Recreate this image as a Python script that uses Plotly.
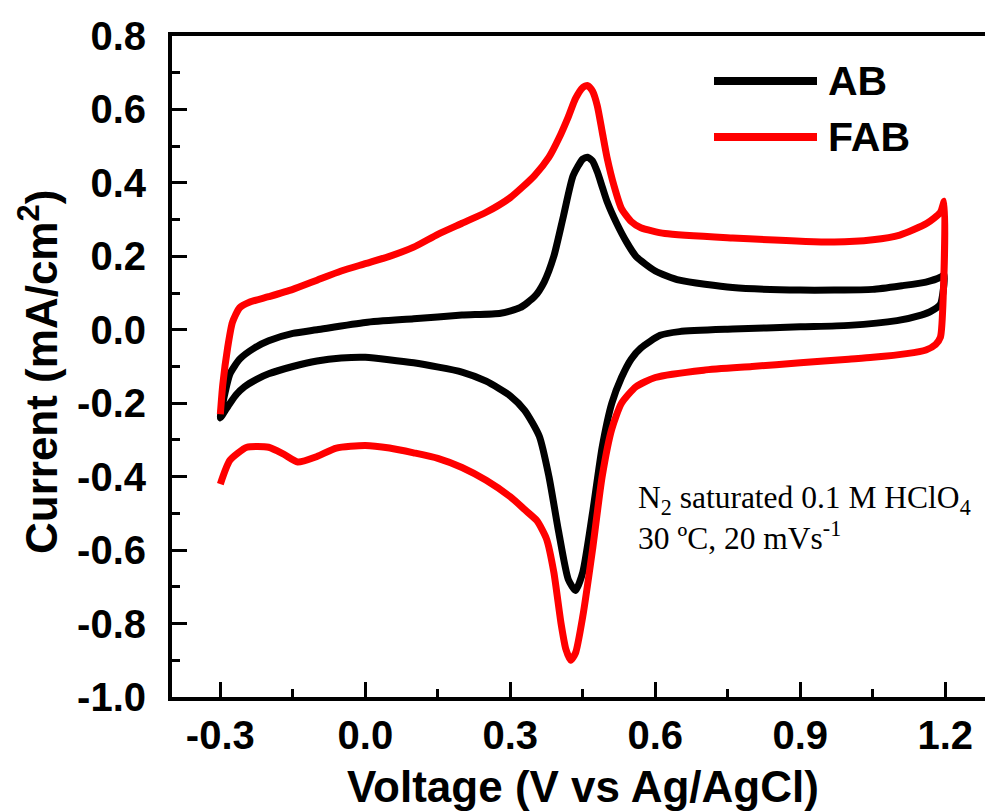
import plotly.graph_objects as go

# ---- data ----
ab_v = [-0.30, -0.29, -0.28, -0.26, -0.23, -0.20, -0.15, -0.10, 0.00, 0.10, 0.20, 0.28, 0.32, 0.35,
        0.37, 0.39, 0.41, 0.43, 0.45, 0.46, 0.47, 0.48, 0.49, 0.50, 0.52, 0.54, 0.56, 0.60, 0.65,
        0.76, 0.90, 0.97, 1.05, 1.11, 1.16, 1.19, 1.198,
        1.195, 1.19, 1.17, 1.15, 1.10, 1.00, 0.90, 0.76, 0.65, 0.61, 0.57, 0.55, 0.53, 0.51, 0.49,
        0.47, 0.45, 0.435, 0.42, 0.40, 0.38, 0.36, 0.33, 0.30, 0.25, 0.20, 0.10, 0.00, -0.05, -0.10,
        -0.15, -0.20, -0.225, -0.25, -0.266, -0.28, -0.29, -0.30]
ab_i = [-0.24, -0.17, -0.12, -0.08, -0.05, -0.03, -0.01, 0.00, 0.02, 0.03, 0.04, 0.045, 0.06, 0.09,
        0.13, 0.20, 0.31, 0.42, 0.465, 0.47, 0.46, 0.43, 0.39, 0.35, 0.29, 0.24, 0.20, 0.16, 0.135,
        0.115, 0.108, 0.108, 0.11, 0.12, 0.13, 0.143, 0.15,
        0.10, 0.07, 0.05, 0.04, 0.025, 0.012, 0.008, 0.002, -0.005, -0.015, -0.05, -0.08, -0.13,
        -0.20, -0.32, -0.50, -0.66, -0.71, -0.68, -0.55, -0.40, -0.29, -0.22, -0.18, -0.14, -0.115,
        -0.09, -0.075, -0.077, -0.085, -0.10, -0.12, -0.135, -0.155, -0.175, -0.20, -0.22, -0.24]

fab_v = [-0.30, -0.295, -0.285, -0.275, -0.26, -0.24, -0.20, -0.15, -0.10, -0.05, 0.00, 0.05, 0.10,
         0.15, 0.20, 0.25, 0.30, 0.35, 0.38, 0.40, 0.42, 0.435, 0.45, 0.46, 0.47, 0.48, 0.49, 0.50,
         0.515, 0.53, 0.55, 0.57, 0.62, 0.76, 0.97, 1.05, 1.106, 1.162, 1.19, 1.198,
         1.196, 1.19, 1.18, 1.16, 1.12, 1.05, 1.00, 0.90, 0.80, 0.70, 0.60, 0.56, 0.53, 0.51, 0.49,
         0.47, 0.45, 0.435, 0.425, 0.415, 0.405, 0.39, 0.375, 0.355, 0.33, 0.30, 0.25, 0.20, 0.15,
         0.10, 0.05, 0.00, -0.06, -0.10, -0.14, -0.17, -0.20, -0.245, -0.28, -0.30]
fab_i = [-0.23, -0.15, -0.05, 0.02, 0.06, 0.075, 0.09, 0.11, 0.135, 0.16, 0.18, 0.20, 0.225, 0.26,
         0.29, 0.32, 0.36, 0.42, 0.47, 0.52, 0.58, 0.63, 0.66, 0.665, 0.65, 0.61, 0.54, 0.47, 0.39,
         0.33, 0.295, 0.278, 0.262, 0.25, 0.239, 0.245, 0.258, 0.29, 0.32, 0.35,
         0.10, -0.02, -0.04, -0.055, -0.065, -0.075, -0.08, -0.09, -0.10, -0.11, -0.13, -0.155, -0.20,
         -0.27, -0.40, -0.60, -0.78, -0.88, -0.90, -0.87, -0.80, -0.66, -0.57, -0.52, -0.49, -0.455,
         -0.41, -0.375, -0.35, -0.335, -0.322, -0.315, -0.322, -0.345, -0.36, -0.338, -0.32, -0.32,
         -0.355, -0.42]

series_names = ["AB", "FAB"]
series_colors = ["#000000", "#ff0000"]

x_tickvals = [-0.3, 0.0, 0.3, 0.6, 0.9, 1.2]
x_ticktext = ["-0.3", "0.0", "0.3", "0.6", "0.9", "1.2"]
y_tickvals = [-1.0, -0.8, -0.6, -0.4, -0.2, 0.0, 0.2, 0.4, 0.6, 0.8]
y_ticktext = ["-1.0", "-0.8", "-0.6", "-0.4", "-0.2", "0.0", "0.2", "0.4", "0.6", "0.8"]

W, H = 985, 811
L, R, T, B = 172, 0, 36, 114
PW, PH = W - L - R, H - T - B


def px(xp):
    return (xp - L) / PW


def py(yp):
    return (H - B - yp) / PH


fig = go.Figure()
for name, v, i, c in [("AB", ab_v, ab_i, series_colors[0]), ("FAB", fab_v, fab_i, series_colors[1])]:
    fig.add_trace(go.Scatter(x=v, y=i, mode="lines", name=name,
                             line=dict(color=c, width=7, shape="spline", smoothing=0.6),
                             showlegend=False))

tickfont = dict(family="Liberation Sans, Arial", size=40, color="black", weight="bold")

fig.update_layout(
    width=W, height=H,
    margin=dict(l=L, r=R, t=T, b=B, pad=0),
    paper_bgcolor="white", plot_bgcolor="white",
    xaxis=dict(range=[-0.4, -0.4 + PW / 483.3], showgrid=False, zeroline=False,
               showline=True, linecolor="black", linewidth=4, mirror=True,
               ticks="inside", ticklen=15, tickwidth=3, tickcolor="black",
               tickvals=x_tickvals, ticktext=x_ticktext, tickfont=tickfont,
               ticklabelstandoff=0,
               minor=dict(ticks="inside", ticklen=8, tickwidth=3, tickcolor="black", dtick=0.15, tick0=-0.15)),
    yaxis=dict(range=[-1.0, 0.8], showgrid=False, zeroline=False,
               showline=True, linecolor="black", linewidth=4, mirror=False,
               ticks="inside", ticklen=15, tickwidth=3, tickcolor="black",
               tickvals=y_tickvals, ticktext=y_ticktext, tickfont=tickfont,
               ticklabelstandoff=14,
               minor=dict(ticks="inside", ticklen=8, tickwidth=3, tickcolor="black", dtick=0.1, tick0=-0.9)),
)

# axis titles
fig.add_annotation(text="Voltage (V vs Ag/AgCl)", xref="paper", yref="paper",
                   x=px(583), y=py(786), xanchor="center", yanchor="middle", showarrow=False,
                   font=dict(family="Liberation Sans, Arial", size=44, color="black", weight="bold"))
fig.add_annotation(text="Current (mA/cm<sup>2</sup>)", xref="paper", yref="paper",
                   x=px(38), y=py(372), xanchor="center", yanchor="middle", showarrow=False, textangle=-90,
                   font=dict(family="Liberation Sans, Arial", size=44, color="black", weight="bold"))

# legend (drawn manually to match long sample lines)
for k, (name, c) in enumerate(zip(series_names, series_colors)):
    yy = 81 + k * 56
    fig.add_shape(type="line", xref="paper", yref="paper", x0=px(714), x1=px(817), y0=py(yy), y1=py(yy),
                  line=dict(color=c, width=8))
    fig.add_annotation(text=name, xref="paper", yref="paper", x=px(826), y=py(yy), xanchor="left",
                       yanchor="middle", showarrow=False,
                       font=dict(family="Liberation Sans, Arial", size=41, color="black", weight="bold"))

# condition note
fig.add_annotation(text="N<sub>2</sub> saturated 0.1 M HClO<sub>4</sub><br>30 ºC, 20 mVs<sup>-1</sup>",
                   xref="paper", yref="paper", x=px(636), y=py(518), xanchor="left", yanchor="middle",
                   align="left", showarrow=False,
                   font=dict(family="Liberation Serif, Times New Roman", size=31.5, color="black"))

fig.write_html("out.html")
